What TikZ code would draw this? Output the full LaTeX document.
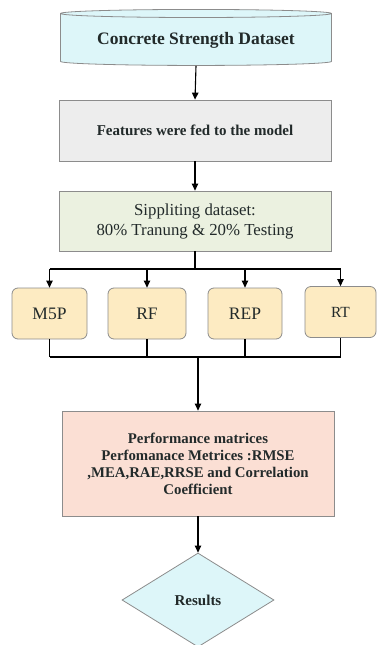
\documentclass[tikz,border=0pt]{standalone}
\usepackage{fontspec}
\setmainfont{Liberation Serif}
\usetikzlibrary{shapes.geometric,arrows.meta}

\definecolor{dataclr}{HTML}{DDF6F9}
\definecolor{featclr}{HTML}{EDEDED}
\definecolor{splitclr}{HTML}{EBF1E0}
\definecolor{modelclr}{HTML}{FDEBC2}
\definecolor{perfclr}{HTML}{FBDFD4}
\definecolor{edgeclr}{HTML}{8C8C8C}
\definecolor{textclr}{HTML}{222A2A}

\tikzset{
  box/.style={draw=edgeclr, line width=0.8pt, text=textclr, align=center, inner sep=2pt},
  modelbox/.style={box, fill=modelclr, rounded corners=6pt, minimum height=51pt,
    font=\fontsize{17.5}{20}\selectfont},
  arr/.style={line width=1.1pt, -{Triangle[width=6.5pt,length=7pt]}},
  link/.style={line width=1.1pt}
}

\begin{document}
\begin{tikzpicture}[x=1pt,y=-1pt]
	\useasboundingbox (0,0) rectangle (377,645);

	\node (data) at (196,40) [box, fill=dataclr, shape=cylinder, shape border rotate=90,
		aspect=0.04, minimum height=56pt, minimum width=271pt,
		font=\fontsize{17.5}{20}\selectfont\bfseries] {Concrete Strength Dataset};
	\node (feat) at (195,130.5) [box, fill=featclr, minimum width=272pt, minimum height=61pt,
		font=\fontsize{15}{17}\selectfont\bfseries] {Features were fed to the model};
	\node (split) at (195,221) [box, fill=splitclr, minimum width=272pt, minimum height=60pt,
		font=\fontsize{16.8}{20}\selectfont] {Sippliting dataset:\\80\% Tranung \& 20\% Testing};

	\node (m5p) at (49.5,313.5) [modelbox, minimum width=75pt] {M5P};
	\node (rf) at (147,313.5) [modelbox, minimum width=78pt] {RF};
	\node (rep) at (245,313.5) [modelbox, minimum width=74pt] {REP};
	\node (rt) at (340.5,312) [modelbox, minimum width=71pt,
		font=\fontsize{15.5}{18}\selectfont] {RT};

	\node (perf) at (198,463.5) [box, fill=perfclr, minimum width=272pt, minimum height=105pt,
		font=\fontsize{14.8}{17}\selectfont\bfseries]
		{Performance matrices\\Perfomanace Metrices :RMSE\\,MEA,RAE,RRSE and Correlation\\Coefficient};
	\node (res) at (198,600) [box, fill=dataclr, shape=diamond, aspect=1.62,
		minimum width=152pt, minimum height=94pt, inner sep=0pt,
		font=\fontsize{15}{17}\selectfont\bfseries] {Results};

	\coordinate (splitbar) at (0,269);
	\coordinate (joinbar) at (0,357);

	\draw[arr] (data.south) -- (feat.north);
	\draw[arr] (feat.south) -- (split.north);
	\draw[link] (split.south) -- (split.south |- splitbar);
	\draw[link] (m5p.north |- splitbar) -- (rt.north |- splitbar);
	\foreach \m in {m5p,rf,rep,rt}
		\draw[arr] (\m.north |- splitbar) -- (\m.north);
	\foreach \m in {m5p,rf,rep,rt}
		\draw[link] (\m.south) -- (\m.south |- joinbar);
	\draw[link] (m5p.south |- joinbar) -- (rt.south |- joinbar);
	\draw[arr] (perf.north |- joinbar) -- (perf.north);
	\draw[arr] (perf.south) -- (res.north);
\end{tikzpicture}
\end{document}
